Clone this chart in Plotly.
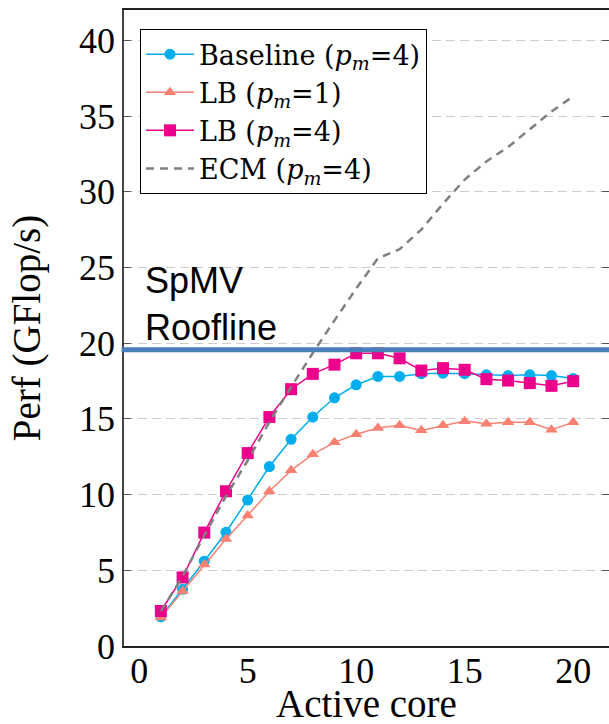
import plotly.graph_objects as go

# Active cores on the x axis
cores = list(range(1, 21))

# Measured / modelled performance in GFlop/s
baseline_pm4 = [1.93, 3.74, 5.60, 7.51, 9.64, 11.85, 13.65, 15.12, 16.39, 17.25,
                17.80, 17.80, 17.98, 18.02, 17.98, 17.91, 17.86, 17.91, 17.86, 17.67]
lb_pm1 = [1.89, 3.63, 5.39, 7.07, 8.62, 10.22, 11.60, 12.66, 13.45, 13.98,
          14.39, 14.57, 14.24, 14.57, 14.85, 14.68, 14.77, 14.77, 14.28, 14.77]
lb_pm4 = [2.31, 4.53, 7.49, 10.22, 12.74, 15.12, 16.96, 17.97, 18.58, 19.33,
          19.33, 19.00, 18.19, 18.35, 18.24, 17.62, 17.53, 17.36, 17.18, 17.49]
ecm_pm4 = [2.30, 4.60, 7.30, 9.90, 12.25, 14.80, 17.10, 19.35, 21.50, 23.60,
           25.60, 26.20, 27.50, 29.20, 30.80, 32.00, 32.95, 34.10, 35.30, 36.30]

roofline = 19.56

y_ticks = [0, 5, 10, 15, 20, 25, 30, 35, 40]
x_ticks = [0, 5, 10, 15, 20]

serif = "Liberation Serif, Times New Roman, serif"
legend_serif = "DejaVu Serif, serif"

fig = go.Figure()

fig.add_trace(go.Scatter(
    x=cores, y=baseline_pm4, mode="lines+markers",
    name="Baseline (<i>p</i><sub><i>m</i></sub>=4)",
    line=dict(color="#00AEEF", width=1.5),
    marker=dict(symbol="circle", size=11, color="#00AEEF"),
))
fig.add_trace(go.Scatter(
    x=cores, y=lb_pm1, mode="lines+markers",
    name="LB (<i>p</i><sub><i>m</i></sub>=1)",
    line=dict(color="#FA8072", width=1.5),
    marker=dict(symbol="triangle-up", size=11, color="#FA8072"),
))
fig.add_trace(go.Scatter(
    x=cores, y=lb_pm4, mode="lines+markers",
    name="LB (<i>p</i><sub><i>m</i></sub>=4)",
    line=dict(color="#EC008C", width=1.5),
    marker=dict(symbol="square", size=12, color="#EC008C"),
))
fig.add_trace(go.Scatter(
    x=cores, y=ecm_pm4, mode="lines",
    name="ECM (<i>p</i><sub><i>m</i></sub>=4)",
    line=dict(color="#808080", width=2.5, dash="8px,6px"),
))

# Roofline for SpMV
fig.add_shape(
    type="line", xref="paper", yref="y",
    x0=-0.005, x1=1, y0=roofline, y1=roofline,
    line=dict(color="#4A7EBB", width=5), layer="above",
)
fig.add_annotation(
    xref="paper", yref="y", x=0.04, y=roofline,
    xanchor="left", yanchor="bottom",
    text="SpMV<br>Roofline", showarrow=False, align="left",
    font=dict(family="Liberation Sans, Arial, sans-serif", size=36, color="black"),
)

# x-axis title, set just below the tick labels
fig.add_annotation(
    xref="paper", yref="paper", x=0.5, y=0,
    xanchor="center", yanchor="top", yshift=-34,
    text="Active core", showarrow=False,
    font=dict(family=serif, size=39, color="black"),
)

fig.update_layout(
    width=609, height=724,
    margin=dict(l=124, r=0, t=10, b=78, autoexpand=False),
    paper_bgcolor="white", plot_bgcolor="white",
    font=dict(family=serif, color="black"),
    showlegend=True,
    legend=dict(
        x=0.033, y=0.970, xanchor="left", yanchor="top",
        bgcolor="white", bordercolor="black", borderwidth=1,
        font=dict(family=legend_serif, size=27, color="black"),
        tracegroupgap=0, itemwidth=48,
    ),
    xaxis=dict(
        range=[-0.7, 21.65], tickvals=x_ticks, ticks="",
        showgrid=False, zeroline=False, automargin=True,
        ticklabelstandoff=-8,
        showline=True, linecolor="#222222", linewidth=1.5, mirror=True,
        tickfont=dict(family=serif, size=36),
    ),
    yaxis=dict(
        range=[0, 42], tickvals=y_ticks, ticks="inside", ticklen=7,
        tickcolor="#555555", tickwidth=1, automargin=True,
        showgrid=True, gridcolor="#cccccc", gridwidth=1, griddash="9px,5px",
        zeroline=False,
        showline=True, linecolor="#444444", linewidth=1.5, mirror="allticks",
        tickfont=dict(family=serif, size=36),
        title=dict(text="Perf (GFlop/s)", font=dict(family=serif, size=39), standoff=26),
    ),
)

fig.write_html("out.html")
